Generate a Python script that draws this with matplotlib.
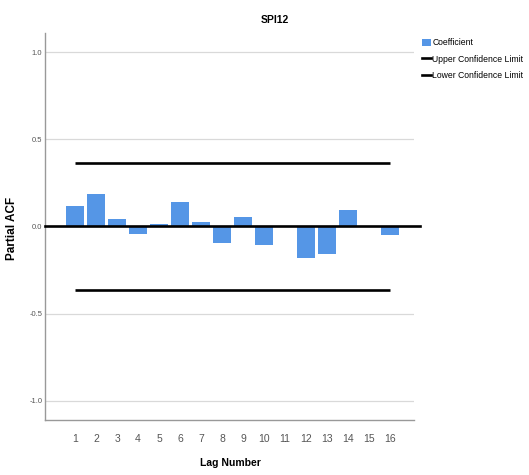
"""Partial ACF plot for SPI12 (SPSS style)"""

import numpy as np
import matplotlib
matplotlib.use("Agg")
import matplotlib.pyplot as plt
from matplotlib.patches import Patch
from matplotlib.lines import Line2D

NARROW = ["Liberation Sans Narrow", "Liberation Sans", "DejaVu Sans"]
REGULAR = ["Liberation Sans", "DejaVu Sans"]

lags = np.arange(1, 17)
pacf = [0.119, 0.187, 0.044, -0.044, 0.017, 0.138, 0.025, -0.097,
        0.052, -0.105, 0.005, -0.181, -0.155, 0.096, 0.0, -0.051]
upper_limit = 0.365
lower_limit = -0.365
y_ticks = [-1.0, -0.5, 0.0, 0.5, 1.0]

BAR_COLOR = "#5596e6"

fig = plt.figure(figsize=(5.29, 4.75), dpi=100)
ax = fig.add_axes([45 / 529, 1 - 420 / 475, 369 / 529, 387 / 475])

for y in y_ticks:
    if y != 0:
        ax.axhline(y, color="#d9d9d9", linewidth=0.9, zorder=0)

ax.bar(lags, pacf, width=0.88, color=BAR_COLOR, zorder=2)
ax.axhline(0, xmin=0, xmax=1.016, color="black", linewidth=1.9,
           clip_on=False, zorder=3)
ax.hlines([upper_limit, lower_limit], lags[0], lags[-1],
          color="black", linewidth=1.9, zorder=3)

ax.set_xlim(-0.43, 17.14)
ax.set_ylim(-1.109, 1.109)
ax.set_xticks(lags)
ax.set_xticklabels([str(l) for l in lags], family=NARROW, fontsize=7.5,
                   color="#555555")
ax.set_yticks(y_ticks)
ax.set_yticklabels([f"{v:.1f}" for v in y_ticks], family=NARROW,
                   fontsize=5.5, color="#555555")
ax.tick_params(axis="both", length=0)
ax.tick_params(axis="x", pad=10)
ax.tick_params(axis="y", pad=2)

for side in ("top", "right"):
    ax.spines[side].set_visible(False)
for side in ("left", "bottom"):
    ax.spines[side].set_color("#999999")
    ax.spines[side].set_linewidth(1.0)

fig.text(275 / 529, 1 - 20 / 475, "SPI12", ha="center", va="center",
         family=NARROW, fontsize=7.5, fontweight="bold")
fig.text(230 / 529, 1 - 463 / 475, "Lag Number", ha="center", va="center",
         family=NARROW, fontsize=7.5, fontweight="bold")
fig.text(12 / 529, 1 - 228 / 475, "Partial ACF", ha="center", va="center",
         rotation=90, family=REGULAR, fontsize=8.5, fontweight="bold")

handles = [
    Patch(facecolor=BAR_COLOR, edgecolor="none"),
    Line2D([], [], color="black", linewidth=1.9),
    Line2D([], [], color="black", linewidth=1.9),
]
labels = ["Coefficient", "Upper Confidence Limit", "Lower Confidence Limit"]
fig.legend(handles, labels, loc="upper left",
           bbox_to_anchor=(419 / 529, 1 - 35 / 475), borderaxespad=0,
           frameon=False, handlelength=1.0, handleheight=1.0,
           handletextpad=0.15, labelspacing=0.85,
           prop={"family": NARROW, "size": 6.2})

fig.savefig("out.png", dpi=100)
